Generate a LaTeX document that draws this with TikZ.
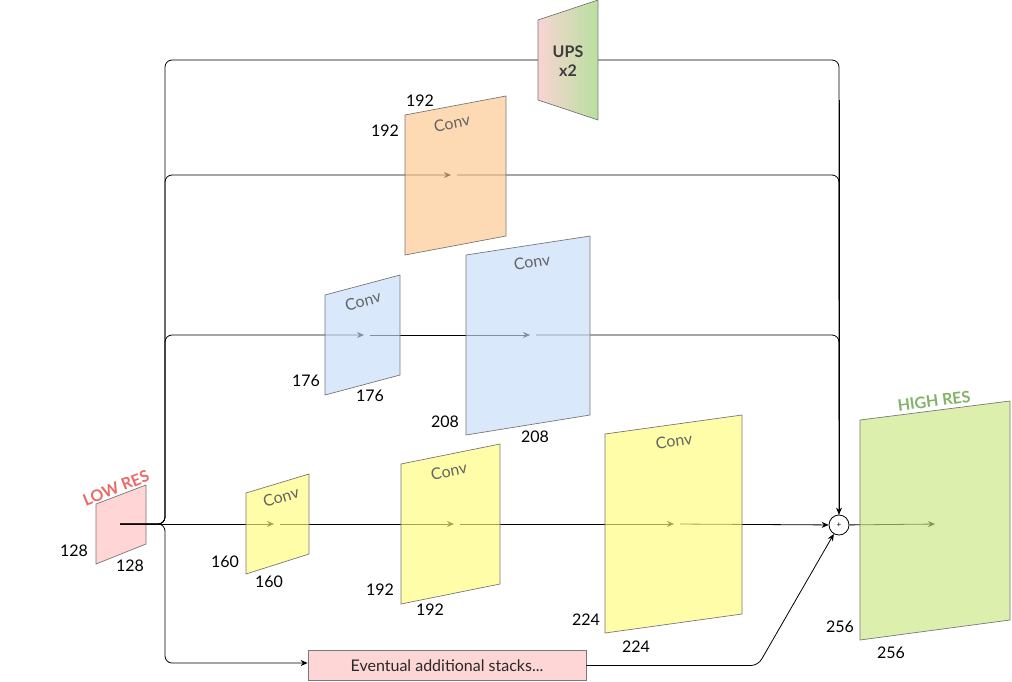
\documentclass[tikz,border=0pt]{standalone}
\usepackage{fontspec}
\setmainfont{Lato}
\usetikzlibrary{arrows.meta}
\definecolor{pinkF}{RGB}{255,190,190}
\definecolor{yelF}{RGB}{255,252,121}
\definecolor{bluF}{RGB}{198,220,250}
\definecolor{oraF}{RGB}{253,198,140}
\definecolor{grnF}{RGB}{201,230,129}
\definecolor{edgeG}{RGB}{120,120,120}
\definecolor{convG}{RGB}{100,100,100}
\definecolor{lowred}{RGB}{234,107,102}
\definecolor{highgrn}{RGB}{130,179,102}
\definecolor{upsL}{RGB}{248,212,210}
\definecolor{upsR}{RGB}{185,224,160}
\tikzset{
  conn/.style={draw=black, line width=0.8pt, rounded corners=7pt, -{Stealth[length=7pt,width=6pt]}},
  plain/.style={draw=black, line width=0.8pt, rounded corners=7pt},
  fmap/.style={draw=edgeG, line width=0.7pt, fill opacity=0.65},
  numlab/.style={font=\fontsize{16}{16}\selectfont, text=black, inner sep=0pt},
  convlab/.style={font=\fontsize{16}{16}\selectfont, text=convG, inner sep=0pt},
}
\begin{document}
\begin{tikzpicture}[x=1pt,y=-1pt]
\useasboundingbox (0,0) rectangle (1012,681);
% named points (centres of feature maps)
\coordinate (lr) at (120,524);
\coordinate (sy) at (277,524);
\coordinate (my) at (457,524);
\coordinate (by) at (677,524);
\coordinate (sb) at (367,335);
\coordinate (bb) at (533,335);
\coordinate (or) at (454,175);
\coordinate (hr) at (938,524);
\coordinate (split) at (165,524);
% LOW RES map
\path[fmap, fill=pinkF] (96,504) -- (146,485) -- (146,544) -- (96,564) -- cycle;
\node[font=\fontsize{16}{16}\selectfont\bfseries, text=lowred, rotate=21.8, inner sep=0pt] (lowlab) at (116,488) {LOW RES};
% plus node
\node[circle, draw=black, line width=0.8pt, minimum size=20pt, inner sep=0pt, fill=white] (plus) at (839,525) {};
% eventual box
\node[draw=edgeG, line width=0.8pt, fill={rgb,255:red,255;green,214;blue,214}, minimum width=278pt, minimum height=30pt, inner sep=0pt, font=\fontsize{16}{16}\selectfont, text={rgb,255:red,40;green,40;blue,40}] (ev) at (447,665.5) {Eventual additional stacks...};
% connectors
\draw[plain] (lr) -- (split) -- (165,60) -- (839,60) -- (plus.north);
\draw[conn] (839,100) -- (plus.north);
\draw[conn, shorten >=3pt] (lr) -- (split) -- (165,175) -- (or);
\draw[plain, shorten <=3pt] (or) -- (839,175) -- (839,300);
\draw[conn, shorten >=3pt] (lr) -- (split) -- (165,335) -- (sb);
\draw[conn, shorten >=3pt, shorten <=3pt] (sb) -- (bb);
\draw[plain, shorten <=3pt] (bb) -- (839,335) -- (839,420);
\draw[conn, shorten >=3pt] (lr) -- (sy);
\draw[conn, shorten >=3pt, shorten <=3pt] (sy) -- (my);
\draw[conn, shorten >=3pt, shorten <=3pt] (my) -- (by);
\draw[conn, shorten <=3pt] (by) -- (plus);
\draw[conn, shorten >=3pt] (plus) -- (hr);
\draw[conn] (lr) -- (split) -- (165,663) -- (ev.west |- 0,663);
\draw[conn] (ev.east) -- (758,665.5) -- (plus);
% feature maps
\path[fmap, fill=yelF] (246,493) -- (309,474) -- (309,554) -- (246,574) -- cycle;
\path[fmap, fill=yelF] (401,464) -- (500,444) -- (500,584) -- (401,604) -- cycle;
\path[fmap, fill=yelF] (605,434) -- (742,415) -- (742,614) -- (605,633) -- cycle;
\path[fmap, fill=bluF] (325,295) -- (400,275) -- (400,375) -- (325,395) -- cycle;
\path[fmap, fill=bluF] (466,255) -- (590,236) -- (590,415) -- (466,435) -- cycle;
\path[fmap, fill=oraF] (405,115) -- (506,96) -- (506,236) -- (405,255) -- cycle;
\path[fmap, fill=grnF] (860,420) -- (1010,401) -- (1010,620) -- (860,640) -- cycle;
% UPS
\shade[left color=upsL, right color=upsR, draw=edgeG, line width=0.7pt] (538,20) -- (598,0) -- (598,120) -- (538,100) -- cycle;
\node[font=\fontsize{16}{19}\selectfont\bfseries, text={rgb,255:red,60;green,60;blue,60}, align=center, inner sep=0pt] (ups) at (568,61) {UPS\\x2};
% conv labels
\node[convlab, rotate=16.8] (c1) at (281,497) {Conv};
\node[convlab, rotate=11.3] (c2) at (449,471) {Conv};
\node[convlab, rotate=8.3] (c3) at (674,441) {Conv};
\node[convlab, rotate=15] (c4) at (363,301) {Conv};
\node[convlab, rotate=9] (c5) at (532,262) {Conv};
\node[convlab, rotate=10.7] (c6) at (452,123) {Conv};
\node[font=\fontsize{16}{16}\selectfont\bfseries, text=highgrn, rotate=7.6, inner sep=0pt] (highlab) at (934,401) {HIGH RES};
% size labels
\node[numlab] (n1) at (74,551) {128};
\node[numlab] (n2) at (130,566) {128};
\node[numlab] (n3) at (225,562) {160};
\node[numlab] (n4) at (269,582) {160};
\node[numlab] (n5) at (380,590) {192};
\node[numlab] (n6) at (430,610) {192};
\node[numlab] (n7) at (586,620) {224};
\node[numlab] (n8) at (636,647) {224};
\node[numlab] (n9) at (306,381) {176};
\node[numlab] (n10) at (370,396) {176};
\node[numlab] (n11) at (445,422) {208};
\node[numlab] (n12) at (535,437) {208};
\node[numlab] (n13) at (385,131) {192};
\node[numlab] (n14) at (420,101) {192};
\node[numlab] (n15) at (840,627) {256};
\node[numlab] (n16) at (891,653) {256};
% plus sign
\node[font=\fontsize{8}{8}\selectfont, inner sep=0pt] (plussign) at (plus) {+};
\end{tikzpicture}
\end{document}
